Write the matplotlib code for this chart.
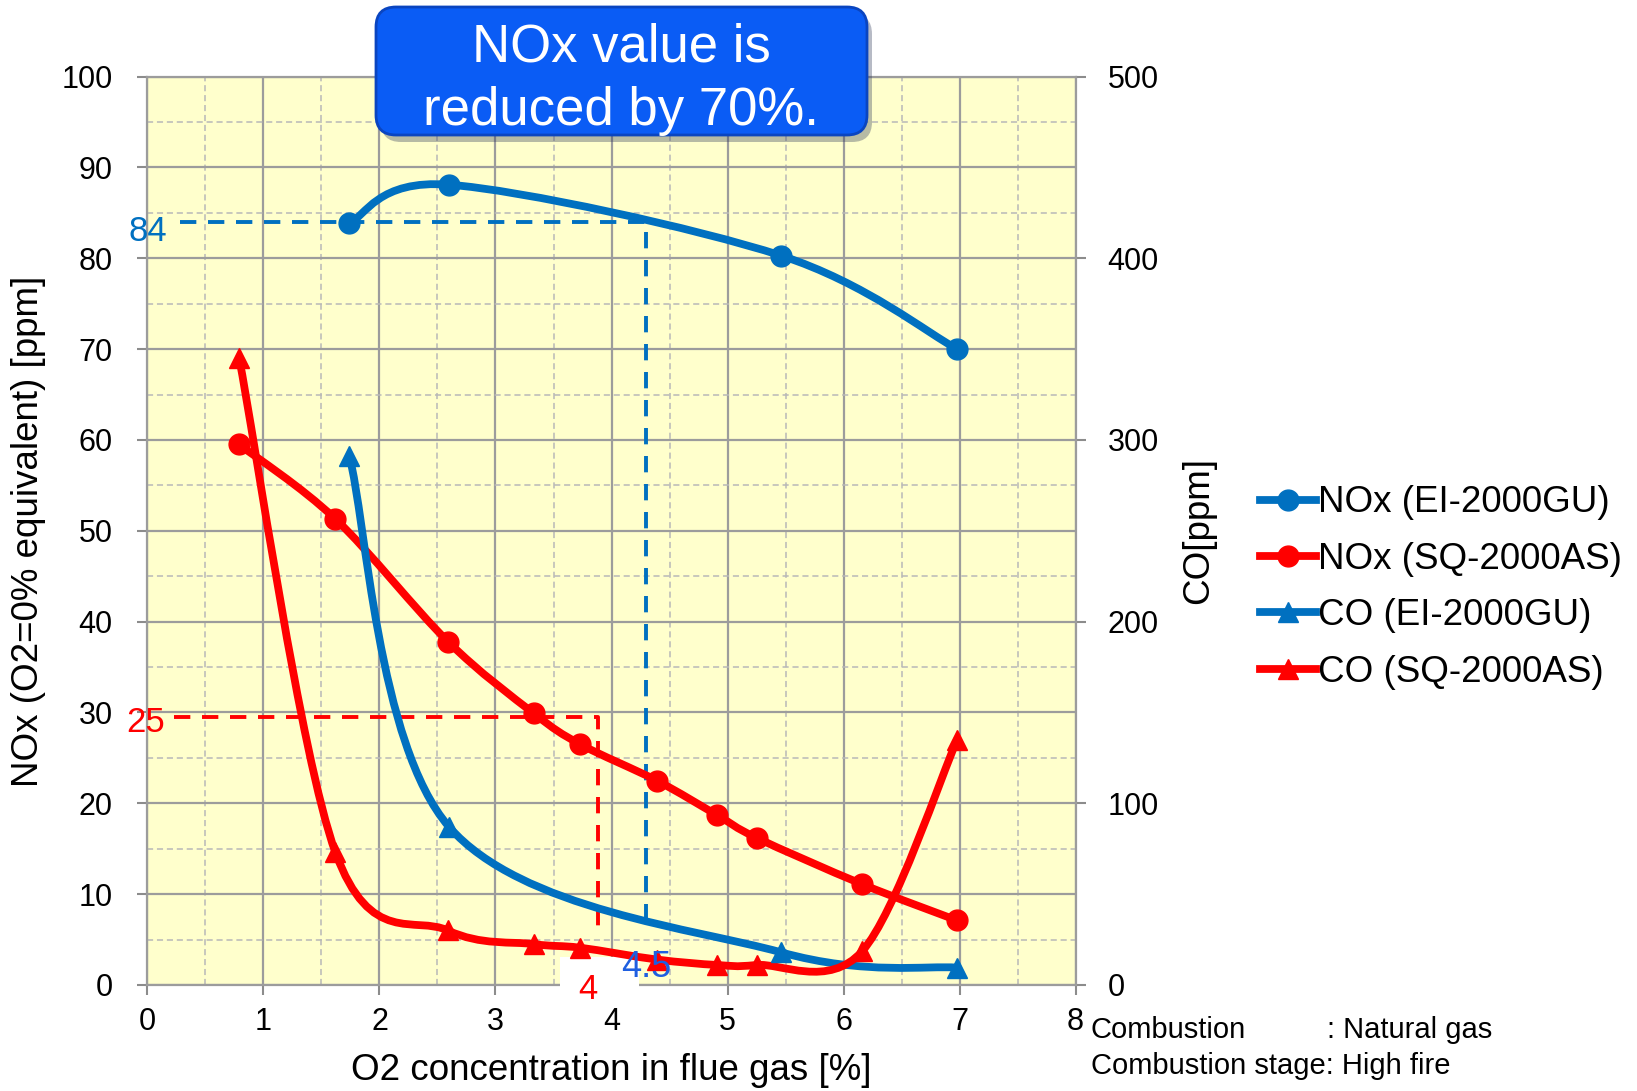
import numpy as np
import matplotlib
matplotlib.use("Agg")
import matplotlib.pyplot as plt
from matplotlib.path import Path
from matplotlib.patches import PathPatch, FancyBboxPatch, Rectangle
from matplotlib.lines import Line2D

plt.rcParams['font.family'] = ['Liberation Sans', 'DejaVu Sans']

# O2 concentration [%] at each measuring point
o2_ei = [1.74, 2.60, 5.46, 6.98]
o2_sq = [0.79, 1.62, 2.59, 3.33, 3.73, 4.39, 4.91, 5.25, 6.16, 6.98]

# NOx (left axis, ppm) and CO (right axis, ppm)
nox_ei = [83.9, 88.1, 80.3, 70.0]
co_ei = [291, 87, 18, 9.5]
nox_sq = [59.5, 51.3, 37.8, 29.9, 26.5, 22.5, 18.7, 16.2, 11.1, 7.1]
co_sq = [345, 73, 30, 22.5, 20.5, 14, 11, 11, 18.5, 135]

labels = ['NOx (EI-2000GU)', 'NOx (SQ-2000AS)', 'CO (EI-2000GU)', 'CO (SQ-2000AS)']

# reference reading lines
ref_ei_nox, ref_ei_o2 = 84, 4.30
ref_sq_nox, ref_sq_o2 = 29.5, 3.88
ref_end = 6.0

BLUE = '#0070C0'
RED = '#FF0000'
GRAY = '#8C8C8C'
LW = 5.6
MS = 15


def smooth_path(x, y):
    """Excel-like smoothed line: cubic bezier through every point."""
    p = np.column_stack([x, y]).astype(float)
    ext = np.vstack([p[0], p, p[-1]])
    verts = [p[0]]
    codes = [Path.MOVETO]
    for i in range(len(p) - 1):
        p0, p1, p2, p3 = ext[i], ext[i + 1], ext[i + 2], ext[i + 3]
        verts += [p1 + (p2 - p0) / 6, p2 - (p3 - p1) / 6, p2]
        codes += [Path.CURVE4] * 3
    return Path(verts, codes)


fig = plt.figure(figsize=(16.37, 10.91), dpi=100)
ax = fig.add_axes([0.0901, 0.0972, 0.5669, 0.8326])

ax.set_xlim(0, 8)
ax.set_ylim(0, 100)
ax.set_facecolor('#FFFFCC')
ax.set_xticks(range(0, 9))
ax.set_yticks(range(0, 101, 10))
ax.set_xticks(np.arange(0.5, 8, 1), minor=True)
ax.set_yticks(np.arange(5, 100, 10), minor=True)
ax.set_axisbelow(True)
ax.grid(which='major', color='#9C9C9C', lw=1.6)
ax.grid(which='minor', color='#B8B8B8', lw=1.1, ls=(0, (4, 2.5)))
ax.tick_params(which='minor', length=0)
ax.tick_params(which='major', labelsize=22, color=GRAY, width=1.5, length=7)
ax.tick_params(axis='x', pad=9)
ax.tick_params(axis='y', pad=18)
for name, s in ax.spines.items():
    s.set_color('#9C9C9C')
    s.set_linewidth(1.6)
ax.spines['right'].set_visible(False)

ax2 = ax.twinx()
ax2.set_ylim(0, 500)
ax2.set_yticks(range(0, 501, 100))
ax2.tick_params(labelsize=22, color=GRAY, width=1.5, length=7, pad=16)
for name in ['left', 'top', 'bottom']:
    ax2.spines[name].set_visible(False)
ax2.spines['right'].set_color('#9C9C9C')
ax2.spines['right'].set_linewidth(1.6)

# white patch hiding the axis around the "4" label
ax.add_patch(Rectangle((3.56, -1.5), 0.68, 4.6, fc='white', ec='none',
                       clip_on=False, zorder=2.6))

# dashed reading lines
ax.plot([0.28, ref_ei_o2, ref_ei_o2], [ref_ei_nox, ref_ei_nox, ref_end],
        color=BLUE, lw=2.8, dashes=(4.2, 3), zorder=3)
ax.plot([0.23, ref_sq_o2, ref_sq_o2], [ref_sq_nox, ref_sq_nox, ref_end],
        color=RED, lw=2.8, dashes=(4.2, 3), zorder=3)

ax.text(0.17, 83.0, '84', color=BLUE, fontsize=25, ha='right', va='center',
        clip_on=False, zorder=4)
ax.text(0.15, 28.9, '25', color=RED, fontsize=25, ha='right', va='center',
        clip_on=False, zorder=4)
ax.text(3.80, -0.5, '4', color=RED, fontsize=25, ha='center', va='center',
        clip_on=False, zorder=4)

# NOx curves
ax.add_patch(PathPatch(smooth_path(o2_ei, nox_ei), fill=False, ec=BLUE,
                       lw=LW, capstyle='round', zorder=5))
ax.plot(o2_ei, nox_ei, 'o', color=BLUE, ms=MS, zorder=6)
ax.add_patch(PathPatch(smooth_path(o2_sq, nox_sq), fill=False, ec=RED,
                       lw=LW, capstyle='round', zorder=5))
ax.plot(o2_sq, nox_sq, 'o', color=RED, ms=MS, zorder=6)

# CO curves
ax2.add_patch(PathPatch(smooth_path(o2_ei, co_ei), fill=False, ec=BLUE,
                        lw=LW, capstyle='round', zorder=5))
ax2.plot(o2_ei, co_ei, '^', color=BLUE, ms=MS, zorder=6)
ax2.add_patch(PathPatch(smooth_path(o2_sq, co_sq), fill=False, ec=RED,
                        lw=LW, capstyle='round', zorder=5))
ax2.plot(o2_sq, co_sq, '^', color=RED, ms=MS, zorder=6)

# "4.5" sits on top of the CO curves
ax2.text(4.30, 9.5, '4.5', color='#1F5FE0', fontsize=26, ha='center',
         va='center', clip_on=False, zorder=7)

handles = [
    Line2D([], [], color=BLUE, lw=LW, marker='o', ms=MS),
    Line2D([], [], color=RED, lw=LW, marker='o', ms=MS),
    Line2D([], [], color=BLUE, lw=LW, marker='^', ms=MS),
    Line2D([], [], color=RED, lw=LW, marker='^', ms=MS),
]
fig.legend(handles, labels, loc='upper left', bbox_to_anchor=(0.770, 0.555),
           frameon=False, fontsize=26.5, handlelength=1.5, handletextpad=0.05,
           labelspacing=0.58, borderpad=0, borderaxespad=0)

# overlay in pixel coordinates for labels and the callout
ov = fig.add_axes([0, 0, 1, 1], zorder=10)
ov.set_xlim(0, 1637)
ov.set_ylim(1091, 0)
ov.axis('off')
ov.patch.set_visible(False)

ov.text(29, 531, 'NOx (O2=0% equivalent) [ppm]', fontsize=26.5, rotation=90,
        ha='center', va='center')
ov.text(1199, 531, 'CO[ppm]', fontsize=26.5, rotation=90, ha='center',
        va='center')
ov.text(611, 1070, 'O2 concentration in flue gas [%]', fontsize=26.5,
        ha='center', va='center')
ov.text(1091, 1030, 'Combustion', fontsize=21, ha='left', va='center')
ov.text(1327, 1030, ': Natural gas', fontsize=21, ha='left', va='center')
ov.text(1091, 1066, 'Combustion stage: High fire', fontsize=21, ha='left',
        va='center')

ov.add_patch(FancyBboxPatch((381, 14), 491, 128,
                            boxstyle='round,pad=0,rounding_size=20',
                            fc='#303A5A', ec='none', alpha=0.35))
ov.add_patch(FancyBboxPatch((376, 7), 491, 128,
                            boxstyle='round,pad=0,rounding_size=20',
                            fc='#0A5CF5', ec='#0A45C0', lw=2))
ov.text(621, 47, 'NOx value is', color='white', fontsize=38, ha='center',
        va='center')
ov.text(621, 111, 'reduced by 70%.', color='white', fontsize=38, ha='center',
        va='center')

fig.savefig('out.png', dpi=100)
